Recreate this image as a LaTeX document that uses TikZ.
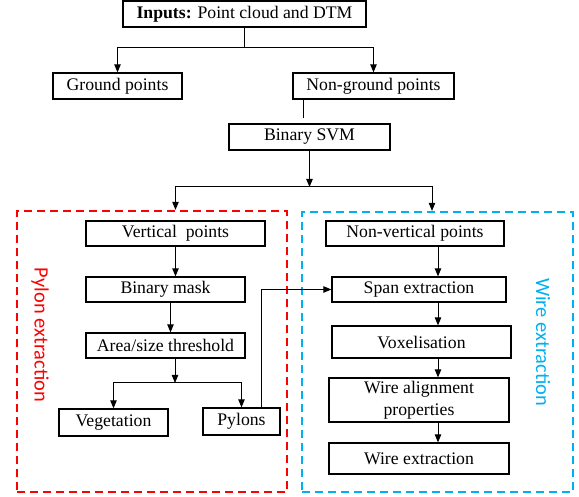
\documentclass[tikz,border=0pt]{standalone}
\usepackage{fontspec}
\setmainfont{Liberation Serif}
\newfontfamily\sidefont{Carlito}
\usepackage{tikz}
\usetikzlibrary{arrows.meta,positioning,calc}
\definecolor{pylred}{RGB}{255,0,0}
\definecolor{wireblue}{RGB}{0,176,240}
\tikzset{
	flowbox/.style={rectangle, draw=black, line width=0.6pt, fill=white, inner sep=0pt,
		minimum height=13pt, align=center, font=\fontsize{8.85pt}{11pt}\selectfont},
	flowarr/.style={-{Triangle[length=4pt,width=3.2pt]}, line width=0.5pt},
	flowline/.style={line width=0.5pt}
}

\begin{document}
\begin{tikzpicture}[
			x=0.5pt, y=-0.5pt,
			dashframe/.style={rectangle, line width=1.1pt, dash pattern=on 4pt off 2.5pt, inner sep=0pt},
			sidelabel/.style={rotate=-90, font=\sidefont\fontsize{10.2pt}{12pt}\selectfont}
		]
			\useasboundingbox (0,0) rectangle (579,497);
			% frames of the two branches
			\node[dashframe, draw=pylred, minimum width=135pt, minimum height=140.5pt] (pylonframe) at (152,351.5) {};
			\node[dashframe, draw=wireblue, minimum width=135.5pt, minimum height=140pt] (wireframe) at (437.5,352) {};
			\node[sidelabel, text=pylred] (pylonlbl) at (40,335) {Pylon extraction};
			\node[sidelabel, text=wireblue] (wirelbl) at (543,342) {Wire extraction};
			% top part
			\node[flowbox, minimum width=121.5pt] (inputs) at (244.5,14) {\textbf{Inputs:} Point cloud and DTM};
			\node[flowbox, minimum width=64.5pt] (ground) at (117.5,86) {Ground points};
			\node[flowbox, minimum width=80.5pt] (nonground) at (373.5,86) {Non-ground points};
			\node[flowbox, minimum width=80.5pt] (svm) at (309.5,137) {Binary SVM};
			% pylon branch
			\node[flowbox, minimum width=89.5pt, minimum height=12.5pt] (vp) at (175.5,233.5) {Vertical~ points};
			\node[flowbox, minimum width=79.5pt, minimum height=12.5pt] (mask) at (165.5,289.5) {Binary mask};
			\node[flowbox, minimum width=79.5pt, minimum height=12.5pt] (area) at (165.5,345.5) {Area/size threshold};
			\node[flowbox, minimum width=54.5pt, minimum height=13.5pt] (veg) at (113.5,422.5) {Vegetation};
			\node[flowbox, minimum width=38.5pt, minimum height=13.5pt] (pylons) at (241.5,421.5) {Pylons};
			% wire branch
			\node[flowbox, minimum width=89pt, minimum height=12.5pt] (nvp) at (415,233.5) {Non-vertical points};
			\node[flowbox, minimum width=87pt, minimum height=12.5pt] (span) at (419,289.5) {Span extraction};
			\node[flowbox, minimum width=89.5pt, minimum height=16pt] (voxel) at (421.5,342) {Voxelisation};
			\node[flowbox, minimum width=90pt, minimum height=22pt] (align) at (419,400) {Wire alignment\\properties};
			\node[flowbox, minimum width=90pt, minimum height=15.5pt] (wire) at (419,458.5) {Wire extraction};
			\coordinate (ngstub) at (303,118);
			\coordinate (svmsplit) at (309.5,187);
			\coordinate (areasplit) at (175,383);
			\coordinate (wirecol) at (438,0);
			% connectors
			\draw[flowarr] (inputs.south) -- ++(0,20) -| (ground.north);
			\draw[flowarr] (inputs.south) -- ++(0,20) -| (nonground.north);
			\draw[flowline] (nonground.south -| ngstub) -- (ngstub);
			\draw[flowarr] (svm) -- (svmsplit);
			\draw[flowarr] (svmsplit) -| (pylonframe.north -| vp);
			\draw[flowarr] (svmsplit) -| ($(wireframe.north)+(-5.5,0)$);
			\draw[flowarr] (vp) -- (vp |- mask.north);
			\draw[flowarr] ([xshift=2.5pt]mask.south) -- ([xshift=2.5pt]area.north);
			\draw[flowarr] (area.south -| areasplit) -- (areasplit);
			\draw[flowarr] (areasplit) -| (veg.north);
			\draw[flowarr] (areasplit) -| (pylons.north);
			\draw[flowarr] ([xshift=9.75pt]pylons.north) |- (span.west);
			\draw[flowarr] (nvp.south -| wirecol) -- (span.north -| wirecol);
			\draw[flowarr] (span.south -| wirecol) -- (voxel.north -| wirecol);
			\draw[flowarr] (voxel.south -| wirecol) -- (align.north -| wirecol);
			\draw[flowarr] (align.south -| wirecol) -- (wire.north -| wirecol);
		\end{tikzpicture}
\end{document}
